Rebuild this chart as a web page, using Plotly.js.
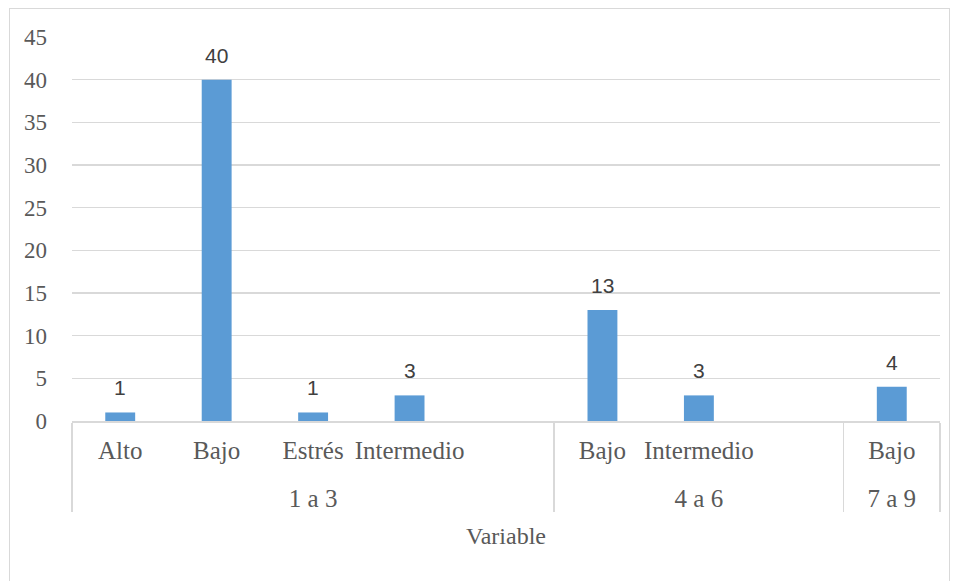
<!DOCTYPE html>
<html>
<head>
<meta charset="utf-8">
<script src="https://cdn.plot.ly/plotly-3.0.1.min.js"></script>
<style>
html,body{margin:0;padding:0;background:#fff;}
#wrap{position:relative;width:958px;height:581px;overflow:hidden;}
#chart{position:absolute;left:0;top:0;width:958px;height:581px;}
#frame{position:absolute;left:9px;top:8px;width:939px;height:600px;border:1px solid #d9d9d9;pointer-events:none;}
</style>
</head>
<body>
<div id="wrap"><div id="chart"></div><div id="frame"></div></div>
<script>
const groups = ["1 a 3","1 a 3","1 a 3","1 a 3","1 a 3","4 a 6","4 a 6","4 a 6","7 a 9"];
const categories = ["Alto","Bajo","Estrés","Intermedio","","Bajo","Intermedio","","Bajo"];
const values = [1, 40, 1, 3, null, 13, 3, null, 4];
const yTicks = [0,5,10,15,20,25,30,35,40,45];
const xTitle = "Variable";

const serif = "Liberation Serif, serif";
const big = s => "<span style='font-size:25px'>" + s + "</span>";
let blankCount = 0;
const catLabels = categories.map(c => {
  const txt = c === "" ? "\u00a0".repeat(++blankCount) : c;
  return big(txt) + "<br><span style='font-size:1px'>\u00a0</span>";
});
const groupLabels = groups.map(g => big(g));

const annotations = [];
values.forEach((v,i)=>{
  if(v===null) return;
  annotations.push({
    x:[groupLabels[i],catLabels[i]], y:v, xref:'x', yref:'y',
    text:String(v), showarrow:false, yanchor:'bottom', yshift:11,
    font:{family:"Liberation Sans, Arial, sans-serif", size:21, color:'#404040'}
  });
});

const trace = {
  type:'bar',
  x:[groupLabels, catLabels],
  y:values,
  marker:{color:'#5b9bd5', line:{color:'#5b9bd5', width:0}},
  hoverinfo:'none'
};

const layout = {
  width:958, height:581,
  margin:{l:72, r:18, t:37, b:160},
  paper_bgcolor:'#fff', plot_bgcolor:'#fff',
  showlegend:false,
  bargap:0.69,
  font:{family:serif},
  xaxis:{
    type:'multicategory',
    tickangle:0,
    showline:true, linecolor:'#d9d9d9', linewidth:1.5,
    showgrid:false, zeroline:false,
    ticks:'',
    ticklabelstandoff:8,
    showdividers:true, dividercolor:'#d9d9d9', dividerwidth:1.5,
    tickfont:{family:serif, size:24, color:'#595959'},
    title:{text:"<span style='font-family:Liberation Serif'>" + xTitle + "</span>",
           font:{family:serif, size:24, color:'#595959'}, standoff:16}
  },
  yaxis:{
    range:[0,45], tickvals:yTicks, ticktext:yTicks.map(String),
    showgrid:true, gridcolor:'#d9d9d9', gridwidth:1.5,
    zeroline:false, showline:false, ticks:'',
    ticklabelstandoff:24,
    tickfont:{family:serif, size:23, color:'#595959'}
  },
  annotations:annotations
};

Plotly.newPlot('chart',[trace],layout,{displayModeBar:false, staticPlot:true});
</script>
</body>
</html>
